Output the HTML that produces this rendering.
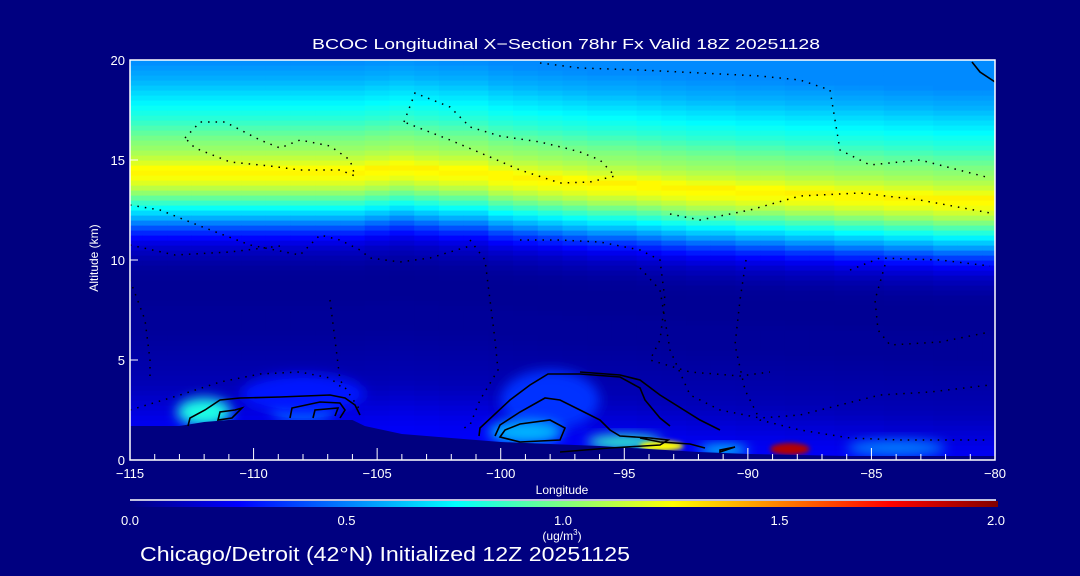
<!DOCTYPE html>
<html><head><meta charset="utf-8"><style>
html,body{margin:0;padding:0;background:#000080;}
svg{display:block;font-family:"Liberation Sans",sans-serif;}
text{fill:#fff;}
</style></head><body>
<svg id="chart" width="1080" height="576" viewBox="0 0 1080 576">
<defs>
<filter id="blur" x="-50%" y="-50%" width="200%" height="200%"><feGaussianBlur stdDeviation="6"/></filter>
<filter id="blur2" x="-50%" y="-50%" width="200%" height="200%"><feGaussianBlur stdDeviation="2.5"/></filter>
<clipPath id="plotclip"><rect x="130" y="60" width="865" height="400"/></clipPath>
<linearGradient id="cbar" x1="0" x2="1" y1="0" y2="0">
<stop offset="0" stop-color="#000080"/><stop offset="0.125" stop-color="#0000ff"/>
<stop offset="0.375" stop-color="#00ffff"/><stop offset="0.625" stop-color="#ffff00"/>
<stop offset="0.875" stop-color="#ff0000"/><stop offset="1" stop-color="#800000"/>
</linearGradient>
</defs>
<rect width="1080" height="576" fill="#000080"/>
<g id="field" clip-path="url(#plotclip)"></g>
<g id="plumes" clip-path="url(#plotclip)"></g>
<g id="terrain" clip-path="url(#plotclip)"></g>
<g id="contours" clip-path="url(#plotclip)" fill="none" stroke="#000"></g>
<g id="axes"></g>
<text x="312" y="49" font-size="15" textLength="508" lengthAdjust="spacingAndGlyphs">BCOC Longitudinal X−Section 78hr  Fx Valid 18Z 20251128</text>
<text x="98" y="258" font-size="12" text-anchor="middle" transform="rotate(-90 98 258)">Altitude (km)</text>
<text x="562" y="494" font-size="12" text-anchor="middle">Longitude</text>
<line x1="130" y1="500" x2="996" y2="500" stroke="#fff" stroke-width="1.5"/>
<rect x="130" y="501" width="868" height="6" fill="url(#cbar)"/>
<g id="cbticks"></g>
<text x="562" y="540" font-size="12" text-anchor="middle">(ug/m<tspan font-size="8" dy="-5">3</tspan><tspan dy="5">)</tspan></text>
<text x="140" y="561" font-size="20" textLength="490" lengthAdjust="spacingAndGlyphs">Chicago/Detroit (42°N) Initialized 12Z 20251125</text>
</svg>
<script>
// ---- data ----
const alts = [0,0.5,1,1.5,2,2.5,3,3.5,4,4.5,5,5.5,6,6.5,7,7.5,8,8.5,9,9.5,10,10.5,11,11.5,12,12.5,13,13.5,14,14.5,15,15.5,16,16.5,17,17.5,18,18.5,19,19.5,20];
const profile = [0.24,0.24,0.24,0.23,0.21,0.18,0.15,0.12,0.1,0.09,0.08,0.07,0.06,0.05,0.05,0.05,0.04,0.04,0.04,0.05,0.08,0.13,0.22,0.36,0.55,0.72,0.9,1.08,1.22,1.28,1.15,1.06,1.0,0.92,0.84,0.78,0.72,0.66,0.6,0.56,0.52];
const lonCols = [-115,-114,-113,-112,-111,-110,-109,-108,-107,-106,-105,-104,-103,-102,-101,-100,-99,-98,-97,-96,-95,-94,-93,-92,-91,-90,-89,-88,-87,-86,-85,-84,-83,-82,-81,-80];
const shift = [0,0,0,0,0,0,0,0,0,0,0.1,0.2,0.1,0,0,-0.2,-0.3,-0.4,-0.5,-0.6,-0.6,-0.7,-0.8,-0.9,-0.9,-1.0,-1.0,-1.1,-1.1,-1.2,-1.2,-1.3,-1.3,-1.4,-1.4,-1.4];
const terrainLon = [-115,-113,-112,-111,-109,-106,-105.5,-104,-102,-100,-98,-96,-94,-92,-90,-88,-86,-84,-82,-80];
const terrainAlt = [1.7,1.7,1.9,2.0,2.0,2.0,1.7,1.3,1.1,0.9,0.8,0.7,0.55,0.4,0.3,0.25,0.2,0.2,0.2,0.2];
const plumeLon = [-112,-108,-98,-99,-95,-93.5,-88.3,-84,-108,-91];
const plumeAlt = [2.4,2.6,3.0,1.4,0.9,0.7,0.55,0.6,3.3,0.5];
const plumeVal = [0.8,0.45,0.35,0.6,0.85,1.25,1.9,0.5,0.3,0.7];
const plumeW = [2.2,2.5,4,3,3,1.8,1.6,4,5,2];
const plumeH = [0.7,0.8,1.5,0.6,0.35,0.25,0.3,0.4,1,0.25];
const yTicks = [0,5,10,15,20];
const xTicks = [-115,-110,-105,-100,-95,-90,-85,-80];
const cbLabels = ["0.0","0.5","1.0","1.5","2.0"];
const cbValues = [0,0.5,1,1.5,2];

// ---- scales ----
const X0=130,X1=995,Y0=460,Y1=60;
const xs = l => X0+(l+115)/35*(X1-X0);
const ys = a => Y0-a/20*(Y0-Y1);
function cmap(v){
  const s=[[0,0,0,128],[0.25,0,0,255],[0.75,0,255,255],[1.25,255,255,0],[1.75,255,0,0],[2,128,0,0]];
  v=Math.max(0,Math.min(2,v));
  for(let i=0;i<s.length-1;i++){if(v<=s[i+1][0]){const t=(v-s[i][0])/(s[i+1][0]-s[i][0]);
    return `rgb(${[1,2,3].map(k=>Math.round(s[i][k]+t*(s[i+1][k]-s[i][k]))).join(',')})`;}}
  return 'rgb(128,0,0)';
}
function prof(a){
  if(a<=0)return profile[0]; if(a>=20)return profile[profile.length-1];
  const i=Math.floor(a/0.5),t=(a-alts[i])/0.5;return profile[i]+t*(profile[i+1]-profile[i]);
}
const NS='http://www.w3.org/2000/svg';
function mk(tag,attrs,parent){const e=document.createElementNS(NS,tag);for(const k in attrs)e.setAttribute(k,attrs[k]);parent.appendChild(e);return e;}

const field=document.getElementById('field');
for(let c=0;c<lonCols.length;c++){
  const xa=xs(lonCols[c]-0.5),xb=xs(lonCols[c]+0.5);
  for(let r=0;r<80;r++){
    const a=r*0.25+0.125;
    const v=prof(a-shift[c]);
    const el=mk('rect',{x:xa,y:ys(a+0.125),width:xb-xa+0.6,height:5.6,fill:cmap(v)},field);
    
    
  }
}
const pg=document.getElementById('plumes');
for(let i=0;i<plumeLon.length;i++){
  const el=mk('ellipse',{cx:xs(plumeLon[i]),cy:ys(plumeAlt[i]),rx:plumeW[i]/35*865/2,ry:plumeH[i]*20,fill:cmap(plumeVal[i]),filter:(i===6||i===5)?'url(#blur2)':'url(#blur)'},pg);
  
  
}
let d=`M${xs(-115)},${Y0}`;
terrainLon.forEach((l,i)=>{d+=` L${xs(l)},${ys(terrainAlt[i])}`;});
d+=` L${xs(-80)},${Y0} Z`;
const tp=mk('path',{d:d,fill:'#000080'},document.getElementById('terrain'));



const cg=document.getElementById('contours');
const dotted=[
 "M185,138 L200,122 L225,122 L260,140 L280,148 L300,140 L330,146 L350,160 L355,176 L340,170 L300,170 L270,166 L230,162 L195,148 Z",
 "M404,122 L415,93 L450,107 L470,127 L500,136 L540,142 L565,148 L580,152 L600,160 L615,176 L590,182 L560,183 L520,170 L490,157 L450,140 Z",
 "M540,63 L580,68 L640,70 L700,73 L760,76 L800,80 L830,90 L840,150 L870,165 L920,160 L990,178",
 "M130,205 L160,210 L200,226 L250,245 L300,255 L320,235 L340,240 L360,250 L370,258 L400,262 L430,258 L470,246",
 "M670,214 L700,220 L750,210 L800,196 L860,193 L920,200 L990,213",
 "M130,245 L175,255 L230,252 L280,246",
 "M520,240 L560,240 L600,242 L640,250 L660,260 L665,300 L660,340 L650,360 L690,372 L740,376 L770,372",
 "M850,270 L880,258 L940,260 L990,266",
 "M885,265 L875,300 L878,330 L890,345 L940,342 L990,332",
 "M640,268 L660,290 L665,320 L670,350 L690,395 L720,410 L760,418 L800,415 L840,405 L880,395 L930,392 L990,385",
 "M130,280 L145,320 L150,360 L150,380",
 "M130,410 L180,395 L220,382 L260,374 L300,372 L330,378 L345,390",
 "M470,240 L485,260 L490,300 L495,340 L498,370 L480,400 L470,425 L460,430",
 "M330,300 L335,340 L340,380 L360,410",
 "M746,260 L740,300 L735,345 L745,390 L760,420 L800,430 L850,438 L900,440 L990,440"
];
dotted.forEach(p=>{const e=mk('path',{d:p,'stroke-width':1.5,'stroke-dasharray':'1.5 6'},cg);
  
  });
const solid=[
 "M188,426 L190,418 L205,410 L220,400 L240,398 L280,397 L330,395 L345,398 L355,405 L360,415",
 "M218,420 L220,412 L235,410 L242,408 L232,418 Z",
 "M290,418 L292,408 L320,402 L340,403 L345,410 L340,418",
 "M313,418 L315,410 L338,408 L335,416",
 "M479,436 L480,428 L510,400 L530,385 L548,374 L580,374 L620,377 L640,388 L645,400 L660,418 L670,426",
 "M495,436 L500,425 L520,412 L545,398 L560,400 L580,410 L600,420 L610,430 L620,436 L650,438 L668,440 L660,445 L610,448 L560,452",
 "M500,437 L505,430 L520,424 L550,420 L565,428 L560,440 L520,442 Z",
 "M640,438 L660,442 L690,444 L705,448",
 "M580,372 L620,375 L640,380 L660,395 L700,420 L720,430",
 "M720,450 L735,447 L720,452 Z",
 "M972,62 L980,72 L995,82"
];
solid.forEach(p=>{const e=mk('path',{d:p,'stroke-width':1.6},cg);
  
  });

const ax=document.getElementById('axes');
const frame=mk('path',{d:`M${X0},${Y1} L${X1},${Y1} L${X1},${Y0} L${X0},${Y0} Z`,fill:'none',stroke:'#fff','stroke-width':1.5},ax);


yTicks.forEach(t=>{
  const y=ys(t);
  mk('line',{x1:X0,y1:y,x2:X0+8,y2:y,stroke:'#fff'},ax);
  const tx=mk('text',{x:X0-5,y:y+5,'font-size':13,'text-anchor':'end'},ax);
  tx.textContent=t;
  
  
});
for(let t=-115;t<=-80;t++){
  const x=xs(t),major=t%5===0;
  mk('line',{x1:x,y1:Y0,x2:x,y2:Y0-(major?12:6),stroke:'#fff'},ax);
}
xTicks.forEach(t=>{
  const tx=mk('text',{x:xs(t),y:478,'font-size':13,'text-anchor':'middle'},ax);
  tx.textContent=String(t).replace('-','−');
  
  
});
const cb=document.getElementById('cbticks');
cbValues.forEach((v,i)=>{
  const tx=mk('text',{x:130+v/2*866,y:525,'font-size':13,'text-anchor':'middle'},cb);
  tx.textContent=cbLabels[i];
  
  
});
</script>
</body></html>
